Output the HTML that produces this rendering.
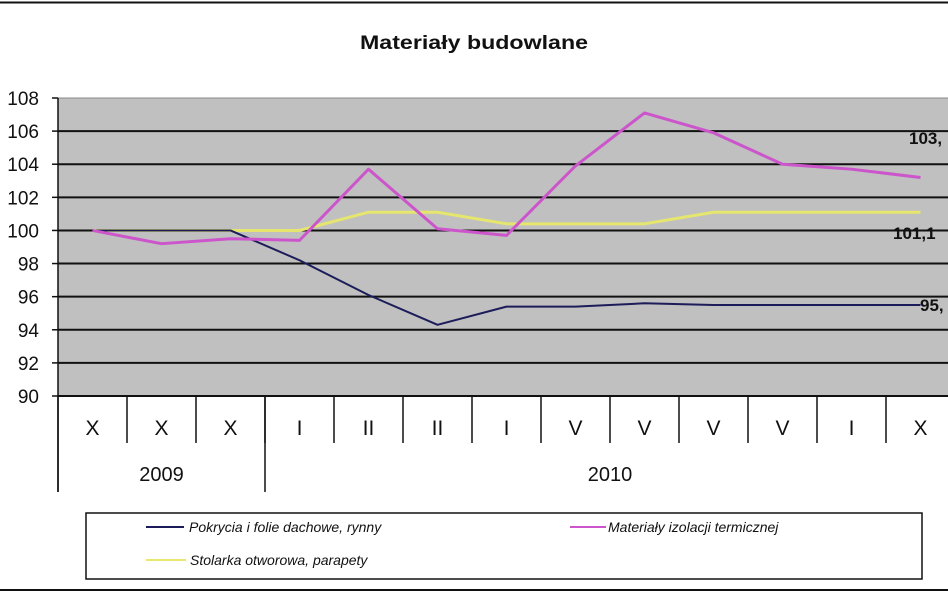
<!DOCTYPE html>
<html><head><meta charset="utf-8"><style>
html,body{margin:0;padding:0;background:#fff;}
body{width:948px;height:593px;overflow:hidden;font-family:"Liberation Sans",sans-serif;}
</style></head><body>
<svg id="chart" width="948" height="593" xmlns="http://www.w3.org/2000/svg">
<line x1="0" y1="2.5" x2="948" y2="2.5" stroke="#111" stroke-width="2"/>
<line x1="0" y1="590" x2="948" y2="590" stroke="#111" stroke-width="2"/>
<text x="474" y="49" text-anchor="middle" font-size="19" font-weight="bold" fill="#111" textLength="228" lengthAdjust="spacingAndGlyphs">Materiały budowlane</text>
<rect x="58" y="98" width="892" height="298" fill="#c0c0c0" stroke="#888" stroke-width="1"/>
<g id="grid"></g>
<g id="xaxis"></g>
<g id="series"></g>
<text x="909" y="144" font-size="17" font-weight="bold" fill="#111">103,</text>
<text x="893" y="239" font-size="17" font-weight="bold" fill="#111">101,1</text>
<text x="920" y="311" font-size="17" font-weight="bold" fill="#111">95,</text>
<g>
<rect x="86" y="513" width="836" height="66" fill="#fff" stroke="#111" stroke-width="1.5"/>
<line x1="146" y1="527" x2="184" y2="527" stroke="#1c1c5a" stroke-width="2"/>
<text x="189" y="532" font-size="14" font-style="italic" fill="#111">Pokrycia i folie dachowe, rynny</text>
<line x1="570" y1="527" x2="606" y2="527" stroke="#cc55cc" stroke-width="2"/>
<text x="608" y="532" font-size="14" font-style="italic" fill="#111">Materiały izolacji termicznej</text>
<line x1="146" y1="560" x2="186" y2="560" stroke="#e8e870" stroke-width="2"/>
<text x="190" y="565" font-size="14" font-style="italic" fill="#111">Stolarka otworowa, parapety</text>
</g>
</svg>
<script>
const categories = ["X","X","X","I","II","II","I","V","V","V","V","I","X"];
const blueValues = [100,100,100,98.2,96.1,94.3,95.4,95.4,95.6,95.5,95.5,95.5,95.5];
const pinkValues = [100,99.2,99.5,99.4,103.7,100.1,99.7,103.9,107.1,105.9,104,103.7,103.2];
const yellowValues = [100,100,100,100,101.1,101.1,100.4,100.4,100.4,101.1,101.1,101.1,101.1];
const yTicks = [90,92,94,96,98,100,102,104,106,108];
const years = [{label:"2009",start:0,end:3},{label:"2010",start:3,end:13}];

const NS="http://www.w3.org/2000/svg";
const X0=58, STEP=69, YB=396, YT=98, VMIN=90, VMAX=108;
function xs(i){return X0+STEP*(i+0.5);}
function ys(v){return YB-(v-VMIN)/(VMAX-VMIN)*(YB-YT);}
function mk(tag,attrs,parent){const e=document.createElementNS(NS,tag);for(const k in attrs)e.setAttribute(k,attrs[k]);parent.appendChild(e);return e;}
const grid=document.getElementById('grid');
yTicks.forEach(t=>{
  const y=ys(t);
  if(t>VMIN && t<VMAX){const l=mk('line',{x1:X0,y1:y,x2:950,y2:y,stroke:'#111','stroke-width':2},grid);
  
  }
  const tk=mk('line',{x1:X0-6,y1:y,x2:X0,y2:y,stroke:'#111','stroke-width':1.5},grid);
  
  
  const tx=mk('text',{x:X0-19,y:y+7,'text-anchor':'end','font-size':19,fill:'#111'},grid);
  tx.textContent=t;
  
  
});
const ax=document.getElementById('xaxis');
const axl=mk('line',{x1:X0,y1:YT,x2:X0,y2:492,stroke:'#111','stroke-width':1.5},ax);


const bl=mk('line',{x1:X0,y1:YB,x2:950,y2:YB,stroke:'#111','stroke-width':2},ax);


categories.forEach((c,i)=>{
  const d=mk('line',{x1:X0+STEP*(i+1),y1:YB,x2:X0+STEP*(i+1),y2:443,stroke:'#111','stroke-width':1.5},ax);
  
  
  const t=mk('text',{x:xs(i),y:435,'text-anchor':'middle','font-size':21,fill:'#111'},ax);
  t.textContent=c;
  
  
});
years.forEach(yr=>{
  const d=mk('line',{x1:X0+STEP*yr.start,y1:YB,x2:X0+STEP*yr.start,y2:492,stroke:'#111','stroke-width':1.5},ax);
  
  
  const t=mk('text',{x:X0+STEP*(yr.start+yr.end)/2,y:481,'text-anchor':'middle','font-size':20,fill:'#111'},ax);
  t.textContent=yr.label;
  
  
});
const sg=document.getElementById('series');
function drawSeries(vals,color,name,w){
  const p=mk('polyline',{points:vals.map((v,i)=>xs(i)+','+ys(v)).join(' '),fill:'none',stroke:color,'stroke-width':w,'stroke-linejoin':'round'},sg);
  
  
}
drawSeries(yellowValues,'#e6e66e','series-stolarka',3);
drawSeries(blueValues,'#1c1c5a','series-pokrycia',2);
drawSeries(pinkValues,'#cc55cc','series-izolacja',3);
</script>
</body></html>
